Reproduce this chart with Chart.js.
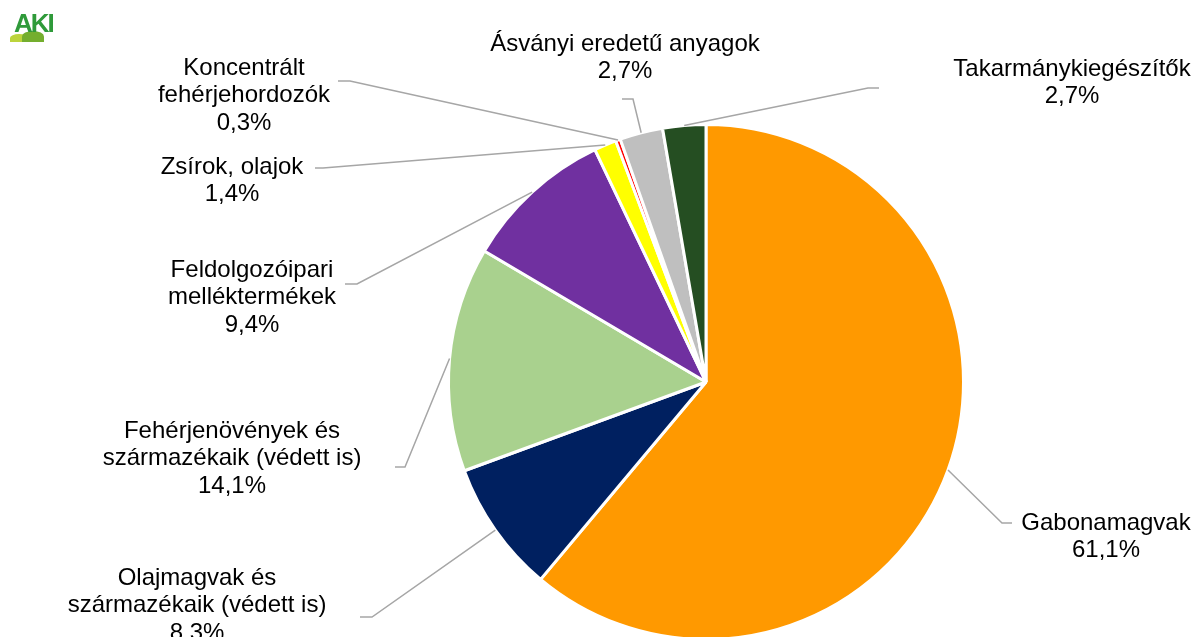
<!DOCTYPE html>
<html lang="hu">
<head>
<meta charset="utf-8">
<script src="https://cdn.jsdelivr.net/npm/chart.js@4.4.1/dist/chart.umd.min.js"></script>
<style>
    html, body { margin: 0; padding: 0; background: #fff; overflow: hidden; }
    #wrap { position: relative; width: 1197px; height: 700px; }
    #logo { position: absolute; left: 10px; top: 10px; width: 52px; height: 34px; }
    #logo .txt { position: absolute; left: 4px; top: 0; font: bold 26px "Liberation Sans", Arial, sans-serif;
                 color: #2f9a3a; letter-spacing: -2px; line-height: 26px; }
    #logo .h1 { position: absolute; left: 0; top: 24px; width: 18px; height: 8px; border-radius: 50% 50% 0 0; background: #bcd43c; }
    #logo .h2 { position: absolute; left: 12px; top: 21px; width: 22px; height: 11px; border-radius: 50% 50% 0 0; background: #74ae2e; }
</style>
</head>
<body>
<div id="wrap">
    <canvas id="pieChart" width="1197" height="700"></canvas>
    <div id="logo"><div class="h1"></div><div class="h2"></div><div class="txt">AKI</div></div>
</div>
<script>
/*************************************************
 * Data
 *************************************************/
const categories = [
    "Gabonamagvak",
    "Olajmagvak és\nszármazékaik (védett is)",
    "Fehérjenövények és\nszármazékaik (védett is)",
    "Feldolgozóipari\nmelléktermékek",
    "Zsírok, olajok",
    "Koncentrált\nfehérjehordozók",
    "Ásványi eredetű anyagok",
    "Takarmánykiegészítők"
];
const shares = [61.1, 8.3, 14.1, 9.4, 1.4, 0.3, 2.7, 2.7];
const sliceColors = ["#FF9900", "#002060", "#A9D18E", "#7030A0", "#FFFF00", "#FF0000", "#BFBFBF", "#254E22"];

// label layout: text centre x, first line y, leader elbow and end
const labelLayout = [
    { x: 1106, y: 523, elbow: [1002, 523], end: [1012, 523] },
    { x: 197,  y: 578, elbow: [372, 617],  end: [360, 617] },
    { x: 232,  y: 431, elbow: [405, 467],  end: [395, 467] },
    { x: 252,  y: 270, elbow: [357, 284],  end: [345, 284] },
    { x: 232,  y: 167, elbow: [323, 168],  end: [315, 168] },
    { x: 244,  y: 68,  elbow: [350, 81],   end: [338, 81] },
    { x: 625,  y: 44,  elbow: [633, 99],   end: [622, 99] },
    { x: 1072, y: 69,  elbow: [868, 88],   end: [879, 88] }
];

const fmtPct = v => v.toFixed(1).replace(".", ",") + "%";

/*************************************************
 * Labels + leader lines
 *************************************************/
const leaderLabels = {
    id: "leaderLabels",
    afterDatasetsDraw(chart) {
        const c = chart.ctx;
        const arcs = chart.getDatasetMeta(0).data;
        c.save();
        arcs.forEach((arc, i) => {
            const lay = labelLayout[i];
            const mid = (arc.startAngle + arc.endAngle) / 2;
            const sx = arc.x + Math.cos(mid) * arc.outerRadius;
            const sy = arc.y + Math.sin(mid) * arc.outerRadius;

            c.strokeStyle = "#A6A6A6";
            c.lineWidth = 1.5;
            c.beginPath();
            c.moveTo(sx, sy);
            c.lineTo(lay.elbow[0], lay.elbow[1]);
            c.lineTo(lay.end[0], lay.end[1]);
            c.stroke();

            const lines = categories[i].split("\n").concat(fmtPct(shares[i]));
            c.fillStyle = "#000";
            c.font = "24px 'Liberation Sans', Arial, sans-serif";
            c.textAlign = "center";
            c.textBaseline = "middle";
            lines.forEach((t, k) => c.fillText(t, lay.x, lay.y + k * 27.5));
        });
        c.restore();
    }
};

/*************************************************
 * Pie
 *************************************************/
new Chart(document.getElementById("pieChart"), {
    type: "pie",
    data: {
        labels: categories,
        datasets: [{
            data: shares,
            backgroundColor: sliceColors,
            borderColor: "#fff",
            borderWidth: 3
        }]
    },
    options: {
        responsive: false,
        animation: false,
        layout: { padding: { left: 447, right: 232, top: 123, bottom: 59 } },
        plugins: { legend: { display: false }, tooltip: { enabled: false } }
    },
    plugins: [leaderLabels]
});
</script>
</body>
</html>
